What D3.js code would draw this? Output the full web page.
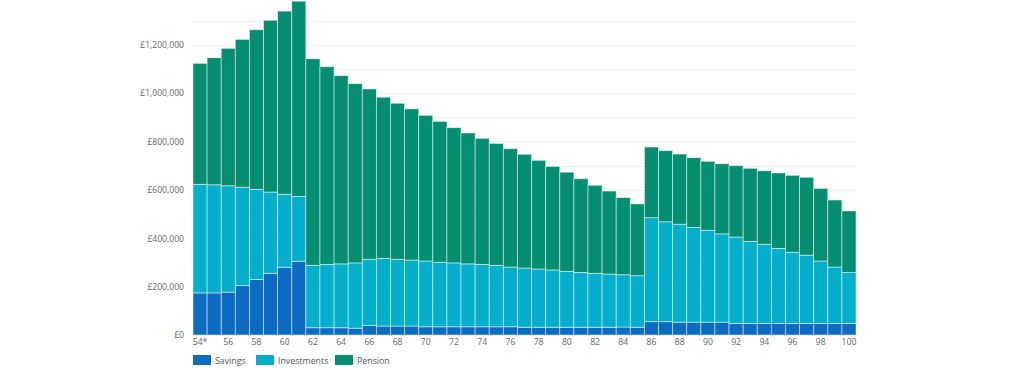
<!DOCTYPE html>
<html>
<head>
<meta charset="utf-8">
<script src="https://cdn.jsdelivr.net/npm/d3@7"></script>
<style>
  body { margin: 0; background: #fff; }
  text { font-family: "Open Sans", sans-serif; }
</style>
</head>
<body>
<script>
// DATA
var ages = d3.range(54, 101);
var tickLabels = ["54*", "56", "58", "60", "62", "64", "66", "68", "70", "72", "74", "76", "78",
  "80", "82", "84", "86", "88", "90", "92", "94", "96", "98", "100"];
var savings = [174000, 174000, 177000, 204000, 229000, 255000, 280000, 305000, 30000, 30000,
  30000, 28000, 40000, 37000, 37000, 37000, 34000, 34000, 34000, 34000, 34000, 34000, 34000,
  32000, 32000, 32000, 32000, 32000, 32000, 32000, 33000, 32000, 55000, 55000, 53000, 53000,
  53000, 53000, 48000, 48000, 48000, 48000, 48000, 48000, 48000, 48000, 48000];
var investments = [449000, 447000, 440000, 407000, 373000, 336000, 302000, 268000, 258000, 262000,
  264000, 270000, 273000, 280000, 276000, 273000, 272000, 267000, 264000, 260000, 258000, 254000,
  247000, 245000, 241000, 237000, 231000, 227000, 223000, 220000, 216000, 213000, 430000, 413000,
  405000, 392000, 380000, 365000, 357000, 339000, 327000, 310000, 294000, 282000, 258000, 233000, 210000];
var pension = [500000, 525000, 568000, 611000, 660000, 710000, 757000, 807000, 854000, 817000,
  778000, 741000, 704000, 666000, 645000, 625000, 602000, 582000, 559000, 541000, 521000, 504000,
  489000, 470000, 449000, 428000, 410000, 387000, 364000, 343000, 319000, 297000, 292000, 294000,
  290000, 288000, 285000, 290000, 295000, 302000, 304000, 312000, 318000, 322000, 300000, 277000, 255000];
var seriesNames = ["Savings", "Investments", "Pension"];
var colors = ["#0b6cc1", "#05aecb", "#068e70"];

// table for d3.stack
var rows = ages.map(function (a, i) {
  return { age: a, Savings: savings[i], Investments: investments[i], Pension: pension[i] };
});

var width = 1024, height = 370;
var svg = d3.select("body").append("svg")
  .attr("width", width)
  .attr("height", height);

var x = d3.scaleBand().domain(ages).range([193, 856]).padding(0);
var y = d3.scaleLinear().domain([0, 1400000]).range([335, 335 - 1.4 * 241.9]);

// gridlines every 100k
svg.append("g")
  .selectAll("line")
  .data(d3.range(0, 1400000, 100000))
  .join("line")
  .attr("x1", 193)
  .attr("x2", 856)
  .attr("y1", function (d) { return Math.round(y(d)) + 0.5; })
  .attr("y2", function (d) { return Math.round(y(d)) + 0.5; })
  .attr("stroke", "#ececec")
  .attr("stroke-width", 1);

// y axis labels
var yAxis = d3.axisLeft(y)
  .tickValues(d3.range(0, 1200001, 200000))
  .tickSize(0)
  .tickPadding(0)
  .tickFormat(function (d) { return "£" + d3.format(",")(d); });
var yg = svg.append("g").attr("transform", "translate(184,0)").call(yAxis);
yg.select(".domain").remove();
yg.selectAll("text")
  .attr("fill", "#666")
  .style("font-size", "8.6px")
  .style("font-family", "'Open Sans', sans-serif");

// stacked bars
var stack = d3.stack().keys(seriesNames);
var layers = stack(rows);

svg.append("g")
  .selectAll("g")
  .data(layers)
  .join("g")
  .attr("fill", function (d, i) { return colors[i]; })
  .selectAll("rect")
  .data(function (d) { return d; })
  .join("rect")
  .attr("x", function (d) { return x(d.data.age); })
  .attr("width", x.bandwidth())
  .attr("y", function (d) { return y(d[1]); })
  .attr("height", function (d) { return y(d[0]) - y(d[1]); })
  .attr("stroke", "#ffffff")
  .attr("stroke-opacity", 0.6)
  .attr("stroke-width", 0.8);

// x axis labels
var xAxis = d3.axisBottom(x)
  .tickValues(ages.filter(function (a) { return a % 2 === 0; }))
  .tickSize(0)
  .tickPadding(0)
  .tickFormat(function (d, i) { return tickLabels[i]; });
var xg = svg.append("g").attr("transform", "translate(0,339)").call(xAxis);
xg.select(".domain").remove();
xg.selectAll("text")
  .attr("fill", "#666")
  .style("font-size", "8.6px")
  .style("font-family", "'Open Sans', sans-serif");

// legend
var legendX = [193, 256, 335];
var legend = svg.append("g").selectAll("g")
  .data(seriesNames)
  .join("g")
  .attr("transform", function (d, i) { return "translate(" + legendX[i] + ",355)"; });
legend.append("rect")
  .attr("width", 18)
  .attr("height", 10)
  .attr("fill", function (d, i) { return colors[i]; });
legend.append("text")
  .attr("x", 22)
  .attr("y", 8.5)
  .attr("fill", "#555")
  .style("font-size", "8.8px")
  .text(function (d) { return d; });
</script>
</body>
</html>
